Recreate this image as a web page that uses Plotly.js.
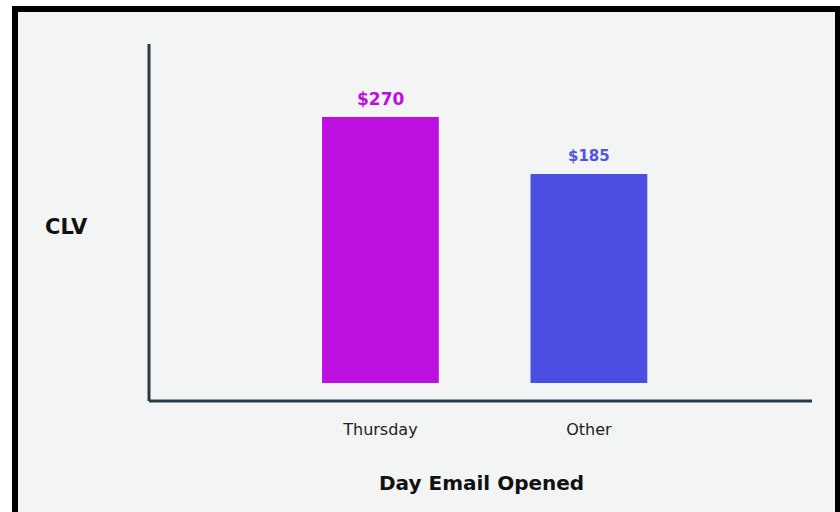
<!DOCTYPE html>
<html>
<head>
<meta charset="utf-8">
<script src="https://cdn.plot.ly/plotly-3.0.1.min.js"></script>
<style>
  html, body { margin: 0; padding: 0; background: #ffffff; }
  #wrap { position: relative; width: 840px; height: 512px; overflow: hidden; }
  #chart { position: absolute; left: 0; top: 0; width: 840px; height: 512px; }
  .ov { position: absolute; pointer-events: none; }
</style>
</head>
<body>
<div id="wrap">
  <div id="chart"></div>
  <div class="ov" style="left:0;top:0;width:840px;height:6px;background:#ffffff;"></div>
  <div class="ov" style="left:12px;top:6px;width:828px;height:6px;background:#000000;"></div>
  <div class="ov" style="left:0;top:6px;width:12px;height:506px;background:#ffffff;"></div>
  <div class="ov" style="left:12px;top:6px;width:6px;height:506px;background:#000000;"></div>
  <div class="ov" style="left:835px;top:6px;width:5px;height:506px;background:#000000;"></div>
</div>
<script>
// Data
const categories = ['Thursday', 'Other'];
const clvValues = [270, 185];
const barColors = ['#bc10de', '#4b4de3'];
const labelColors = ['#bc10de', '#5353e6'];
const labelSizes = [17, 15];
const xTitle = 'Day Email Opened';
const yTitle = 'CLV';

// Visual axis floor (the infographic's bars start from a truncated base)
const axisFloor = -127;
const axisTop = 379;

const trace = {
  type: 'bar',
  x: categories,
  y: clvValues.map(v => v - axisFloor),
  base: clvValues.map(() => axisFloor),
  width: 0.56,
  marker: { color: barColors, line: { width: 0 } },
  hoverinfo: 'skip'
};

const valueLabels = categories.map((c, i) => ({
  text: '<b>$' + clvValues[i] + '</b>',
  x: c, y: clvValues[i], xref: 'x', yref: 'y',
  showarrow: false, xanchor: 'center', yanchor: 'middle', yshift: 18,
  font: { family: 'DejaVu Sans', size: labelSizes[i], color: labelColors[i] }
}));

const layout = {
  width: 840, height: 512,
  margin: { l: 149, r: 28, t: 44, b: 129 },
  paper_bgcolor: '#f3f4f4',
  plot_bgcolor: 'rgba(0,0,0,0)',
  showlegend: false,
  xaxis: {
    type: 'category',
    range: [-1.11, 2.07],
    showgrid: false, zeroline: false, showline: false,
    ticks: '', ticklabelstandoff: 35,
    tickfont: { family: 'DejaVu Sans', size: 16, color: '#222222' },
    fixedrange: true
  },
  yaxis: {
    range: [axisFloor, axisTop],
    showgrid: false, zeroline: false, showline: false,
    showticklabels: false, ticks: '',
    fixedrange: true
  },
  shapes: [
    { type: 'line', xref: 'paper', yref: 'paper', x0: 0, x1: 0, y0: -0.053, y1: 1,
      line: { color: '#263b48', width: 3 } },
    { type: 'line', xref: 'paper', yref: 'paper', x0: 0, x1: 1, y0: -0.053, y1: -0.053,
      line: { color: '#263b48', width: 3 } }
  ],
  annotations: valueLabels.concat([
    { text: '<b>' + yTitle + '</b>', xref: 'paper', yref: 'paper', x: -0.1237, y: 0.46,
      showarrow: false, xanchor: 'center', yanchor: 'middle',
      font: { family: 'DejaVu Sans', size: 21, color: '#111111' } },
    { text: '<b>' + xTitle + '</b>', xref: 'paper', yref: 'paper', x: 0.5008, y: -0.295,
      showarrow: false, xanchor: 'center', yanchor: 'middle',
      font: { family: 'DejaVu Sans', size: 20, color: '#111111' } }
  ])
};

Plotly.newPlot('chart', [trace], layout, { displayModeBar: false, staticPlot: true });
</script>
</body>
</html>
